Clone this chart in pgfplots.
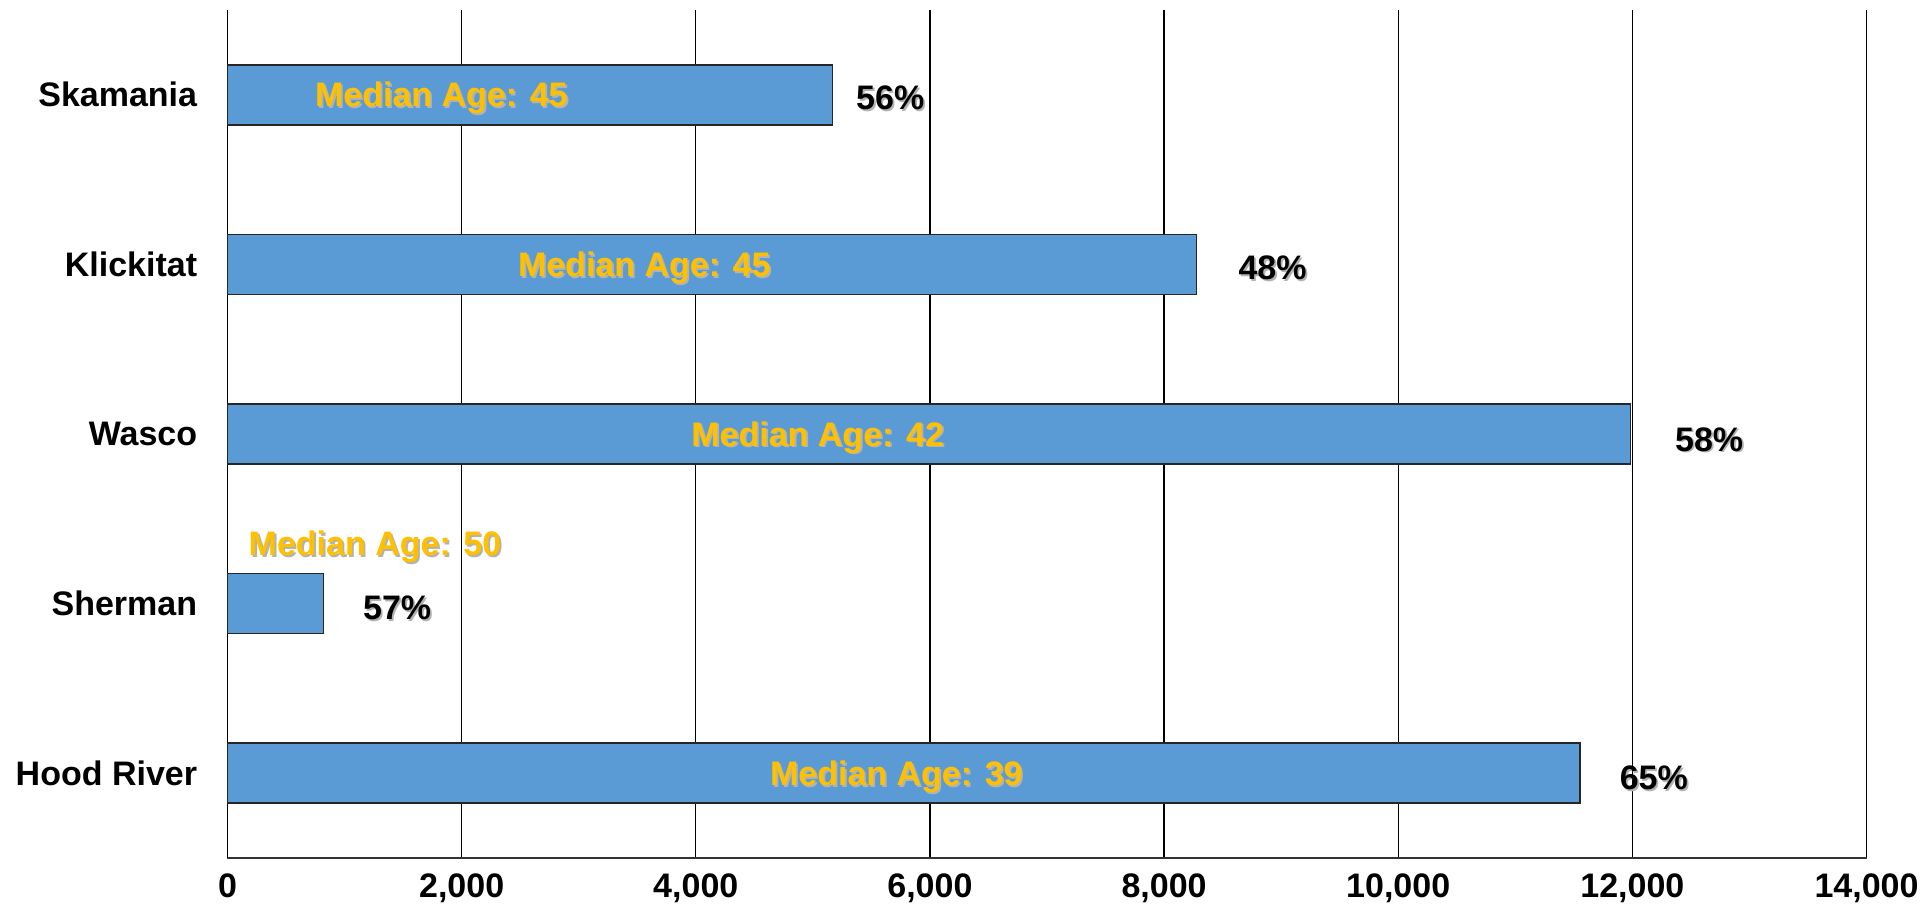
\documentclass[border=0pt]{standalone}
\usepackage{pgfplots}
\pgfplotsset{compat=1.18}
\usepackage{fontspec}
\setmainfont{Liberation Sans}
\definecolor{barblue}{HTML}{5B9BD5}
\definecolor{gold}{HTML}{FFC000}
\newcommand{\sh}[2][black]{\makebox[0pt][l]{\hspace{0.9pt}\raisebox{-0.9pt}{\textcolor{black!30}{#2}}}\textcolor{#1}{#2}}
\newcommand{\bigf}{\bfseries\fontsize{17}{20}\selectfont}
\begin{document}
\begin{tikzpicture}
\begin{axis}[
  at={(0,0)}, anchor=south west,
  scale only axis, width=819.5pt, height=424pt,
  xmin=0, xmax=14000, ymin=-0.5, ymax=4.5,
  xbar, bar width=30pt,
  axis x line*=bottom, axis y line*=left,
  xtick={0,2000,...,14000},
  ytick={0,...,4},
  yticklabels={Hood River,Sherman,Wasco,Klickitat,Skamania},
  xmajorgrids, major grid style={black, line width=0.6pt},
  major tick length=0pt,
  /pgf/number format/assume math mode=true,
  /pgf/number format/1000 sep={,},
  scaled x ticks=false,
  xticklabel style={font=\bigf, inner sep=0pt, yshift=-7.5pt},
  yticklabel style={font=\bigf, inner sep=0pt, xshift=-15pt},
  x axis line style={line width=1.2pt, black!80},
  y axis line style={line width=0.8pt, black},
  clip=false,
]
\addplot[fill=barblue, draw=black!85, line width=0.8pt]
  coordinates {(11553,0) (819,1) (11983,2) (8276,3) (5167,4)};
% median age labels
\node[anchor=base, yshift=-6pt, font=\bigf] at (axis cs:1827,4) {\sh[gold]{Median Age: 45}};
\node[anchor=base, yshift=-6pt, font=\bigf] at (axis cs:3560,3) {\sh[gold]{Median Age: 45}};
\node[anchor=base, yshift=-6pt, font=\bigf] at (axis cs:5041,2) {\sh[gold]{Median Age: 42}};
\node[anchor=base, yshift=-6pt, font=\bigf] at (axis cs:1260,1.353) {\sh[gold]{Median Age: 50}};
\node[anchor=base, yshift=-6pt, font=\bigf] at (axis cs:5713,0) {\sh[gold]{Median Age: 39}};
% percent labels
\node[anchor=base, yshift=-7.5pt, font=\bigf] at (axis cs:5661,4) {\sh{56\%}};
\node[anchor=base, yshift=-7.5pt, font=\bigf] at (axis cs:8927,3) {\sh{48\%}};
\node[anchor=base, yshift=-8.5pt, font=\bigf] at (axis cs:12656,2) {\sh{58\%}};
\node[anchor=base, yshift=-8pt, font=\bigf] at (axis cs:1449,1) {\sh{57\%}};
\node[anchor=base, yshift=-8pt, font=\bigf] at (axis cs:12183,0) {\sh{65\%}};
\end{axis}
\pgfresetboundingbox
\path[use as bounding box] (-113.75pt,-30pt) rectangle (850.25pt,429pt);
\end{tikzpicture}
\end{document}
